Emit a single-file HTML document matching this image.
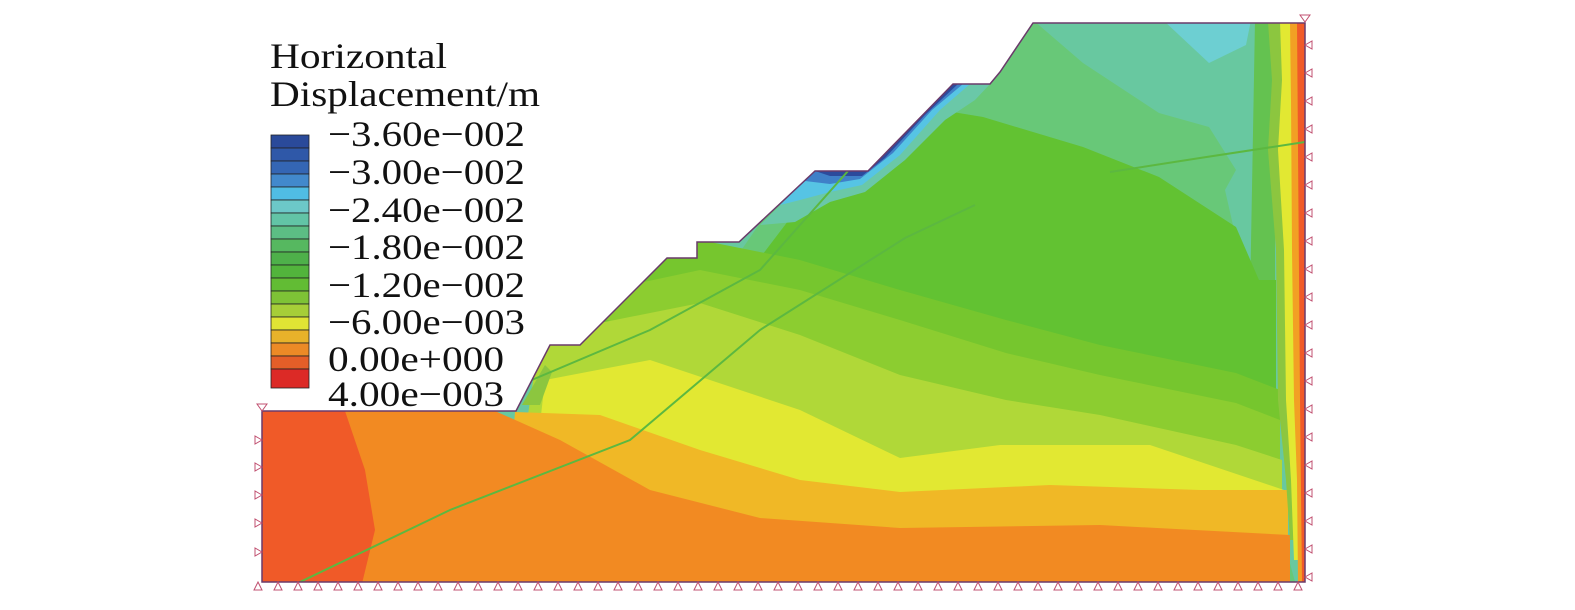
<!DOCTYPE html>
<html><head><meta charset="utf-8"><style>
html,body{margin:0;padding:0;background:#fff;}
svg{display:block}
text{font-family:"Liberation Serif",serif;fill:#111}
</style></head><body>
<svg width="1575" height="610" viewBox="0 0 1575 610" xmlns="http://www.w3.org/2000/svg">
<defs>
<clipPath id="dom"><path d="M262,411 L516,411 L550,345 L580,345 L667,258 L697,258 L697,242 L739,242 L815,171 L868,171 L953,84 L990,84 L1000,72 L1033,23 L1305,23 L1305,582 L262,582 Z"/></clipPath>
</defs>
<g clip-path="url(#dom)">
<rect x="250" y="0" width="1100" height="600" fill="#68c8a0"/>
<path d="M1163,20 L1251,20 L1246,45 L1209,63 Z" fill="#6dcfd2"/>
<path d="M900,20 L1033,20 L1083,63 L1159,113 L1209,127 L1236,170 L1225,190 L1250,300 L1240,380 L1300,600 L500,600 Z" fill="#68c878"/>
<path d="M1255,20 L1275,20 L1275,600 L1240,600 L1250,300 Z" fill="#64c250"/>
<path d="M880,100 L983,117 L1083,147 L1159,177 L1236,227 L1262,287 L1270,600 L500,600 Z" fill="#62c232"/>
<path d="M1240,280 L1276,280 L1276,600 L1240,600 Z" fill="#62c232"/>
<path d="M600,250 L700,240 L800,260 L900,290 L1006,320 L1100,345 L1236,373 L1280,390 L1280,600 L500,600 Z" fill="#76c62e"/>
<path d="M560,300 L700,270 L800,290 L900,320 L1006,353 L1100,375 L1236,403 L1280,420 L1280,600 Z" fill="#8ccd30"/>
<path d="M540,335 L700,303 L800,335 L900,375 L1006,400 L1100,415 L1236,445 L1282,460 L1282,600 L500,600 Z" fill="#b0d838"/>
<path d="M545,380 L650,360 L800,410 L900,458 L1000,445 L1150,445 L1284,490 L1285,600 L520,600 Z" fill="#e2e832"/>
<path d="M515,412 L600,415 L700,450 L800,480 L900,492 L1050,485 L1200,490 L1288,490 L1288,600 L500,600 Z" fill="#f0b826"/>
<path d="M495,411 L560,440 L650,490 L760,518 L900,528 L1100,525 L1290,535 L1290,600 L350,600 L345,411 Z" fill="#f28a22"/>
<path d="M250,400 L345,411 L365,470 L375,530 L358,600 L250,600 Z" fill="#f05a28"/>
<path d="M1268,22 L1272,80 L1268,150 L1276,250 L1278,400 L1286,480 L1290,540 L1310,540 L1310,22 Z" fill="#8cc63f"/>
<path d="M1280,22 L1282,80 L1278,150 L1284,250 L1286,400 L1291,480 L1294,560 L1310,560 L1310,22 Z" fill="#e2e832"/>
<path d="M1290,22 L1291,100 L1292,250 L1294,400 L1297,480 L1298,582 L1310,582 L1310,22 Z" fill="#f2a024"/>
<path d="M1297,22 L1298,150 L1300,400 L1302,582 L1310,582 L1310,22 Z" fill="#f05a28"/>
<path d="M760,225 L815,171 L868,171 L953,84 L990,84 L975,100 L945,120 L905,160 L865,192 L830,202 L795,222 Z" fill="#6ac8a8"/>
<path d="M780,205 L815,171 L868,171 L953,84 L970,84 L940,110 L900,155 L862,185 L830,192 L800,200 Z" fill="#56c4e4"/>
<path d="M805,181 L815,171 L868,171 L953,84 L963,84 L932,110 L893,153 L860,179 L830,184 Z" fill="#3f80c8"/>
<path d="M815,171 L868,171 L953,84 L958,84 L925,115 L885,158 L862,176 L830,176 Z" fill="#2c4a9c"/>
<path d="M522,405 L545,365 L552,372 L540,405 Z" fill="#8cc63f"/>
<polyline points="300,582 450,510 630,440 760,330 905,238 975,205" fill="none" stroke="#5cb840" stroke-width="2"/>
<polyline points="520,385 650,330 760,270 848,171" fill="none" stroke="#5cb840" stroke-width="2"/>
<polyline points="1110,172 1200,158 1305,142" fill="none" stroke="#5cb840" stroke-width="2"/>
</g>
<path d="M262,411 L516,411 L550,345 L580,345 L667,258 L697,258 L697,242 L739,242 L815,171 L868,171 L953,84 L990,84 L1000,72 L1033,23 L1305,23 L1305,582 L262,582 Z" fill="none" stroke="#6a3a6a" stroke-width="1.5"/>
<g fill="none" stroke="#c05070" stroke-width="1">
<path d="M257,404 h10 l-5,7 z"/>
<path d="M1300,15 h10 l-5,7 z"/>
<path d="M258,582 l4,8 h-8 z M278,582 l4,8 h-8 z M298,582 l4,8 h-8 z M318,582 l4,8 h-8 z M338,582 l4,8 h-8 z M358,582 l4,8 h-8 z M378,582 l4,8 h-8 z M398,582 l4,8 h-8 z M418,582 l4,8 h-8 z M438,582 l4,8 h-8 z M458,582 l4,8 h-8 z M478,582 l4,8 h-8 z M498,582 l4,8 h-8 z M518,582 l4,8 h-8 z M538,582 l4,8 h-8 z M558,582 l4,8 h-8 z M578,582 l4,8 h-8 z M598,582 l4,8 h-8 z M618,582 l4,8 h-8 z M638,582 l4,8 h-8 z M658,582 l4,8 h-8 z M678,582 l4,8 h-8 z M698,582 l4,8 h-8 z M718,582 l4,8 h-8 z M738,582 l4,8 h-8 z M758,582 l4,8 h-8 z M778,582 l4,8 h-8 z M798,582 l4,8 h-8 z M818,582 l4,8 h-8 z M838,582 l4,8 h-8 z M858,582 l4,8 h-8 z M878,582 l4,8 h-8 z M898,582 l4,8 h-8 z M918,582 l4,8 h-8 z M938,582 l4,8 h-8 z M958,582 l4,8 h-8 z M978,582 l4,8 h-8 z M998,582 l4,8 h-8 z M1018,582 l4,8 h-8 z M1038,582 l4,8 h-8 z M1058,582 l4,8 h-8 z M1078,582 l4,8 h-8 z M1098,582 l4,8 h-8 z M1118,582 l4,8 h-8 z M1138,582 l4,8 h-8 z M1158,582 l4,8 h-8 z M1178,582 l4,8 h-8 z M1198,582 l4,8 h-8 z M1218,582 l4,8 h-8 z M1238,582 l4,8 h-8 z M1258,582 l4,8 h-8 z M1278,582 l4,8 h-8 z M1298,582 l4,8 h-8 z"/>
<path d="M262,440 l-7,-4 v8 z M262,467 l-7,-4 v8 z M262,495 l-7,-4 v8 z M262,523 l-7,-4 v8 z M262,552 l-7,-4 v8 z"/>
<path d="M1305,45 l7,-4 v8 z M1305,73 l7,-4 v8 z M1305,101 l7,-4 v8 z M1305,129 l7,-4 v8 z M1305,157 l7,-4 v8 z M1305,185 l7,-4 v8 z M1305,213 l7,-4 v8 z M1305,241 l7,-4 v8 z M1305,269 l7,-4 v8 z M1305,297 l7,-4 v8 z M1305,325 l7,-4 v8 z M1305,353 l7,-4 v8 z M1305,381 l7,-4 v8 z M1305,409 l7,-4 v8 z M1305,437 l7,-4 v8 z M1305,465 l7,-4 v8 z M1305,493 l7,-4 v8 z M1305,521 l7,-4 v8 z M1305,549 l7,-4 v8 z M1305,577 l7,-4 v8 z"/>
</g>
<text x="270" y="68" font-size="36" textLength="177" lengthAdjust="spacingAndGlyphs">Horizontal</text>
<text x="270" y="106" font-size="36" textLength="270" lengthAdjust="spacingAndGlyphs">Displacement/m</text>
<g stroke="#222" stroke-width="0.8">
<rect x="271" y="135" width="38" height="13" fill="#2a4a9a"/>
<rect x="271" y="148" width="38" height="13" fill="#2f58a8"/>
<rect x="271" y="161" width="38" height="13" fill="#3466b4"/>
<rect x="271" y="174" width="38" height="13" fill="#4289cc"/>
<rect x="271" y="187" width="38" height="13" fill="#50bde4"/>
<rect x="271" y="200" width="38" height="13" fill="#6cc8c8"/>
<rect x="271" y="213" width="38" height="13" fill="#62c4a6"/>
<rect x="271" y="226" width="38" height="13" fill="#5cbd84"/>
<rect x="271" y="239" width="38" height="13" fill="#56b860"/>
<rect x="271" y="252" width="38" height="13" fill="#4eb04a"/>
<rect x="271" y="265" width="38" height="13" fill="#52b43c"/>
<rect x="271" y="278" width="38" height="13" fill="#62bc34"/>
<rect x="271" y="291" width="38" height="13" fill="#7ec236"/>
<rect x="271" y="304" width="38" height="13" fill="#a6ce38"/>
<rect x="271" y="317" width="38" height="13" fill="#e0e434"/>
<rect x="271" y="330" width="38" height="13" fill="#e8b22a"/>
<rect x="271" y="343" width="38" height="13" fill="#ec8a26"/>
<rect x="271" y="356" width="38" height="13" fill="#e45e28"/>
<rect x="271" y="369" width="38" height="19" fill="#dc2a26"/>
</g>
<g font-size="36">
<text x="328" y="146" textLength="197" lengthAdjust="spacingAndGlyphs">−3.60e−002</text>
<text x="328" y="184" textLength="197" lengthAdjust="spacingAndGlyphs">−3.00e−002</text>
<text x="328" y="222" textLength="197" lengthAdjust="spacingAndGlyphs">−2.40e−002</text>
<text x="328" y="259" textLength="197" lengthAdjust="spacingAndGlyphs">−1.80e−002</text>
<text x="328" y="297" textLength="197" lengthAdjust="spacingAndGlyphs">−1.20e−002</text>
<text x="328" y="334" textLength="197" lengthAdjust="spacingAndGlyphs">−6.00e−003</text>
<text x="328" y="371" textLength="176" lengthAdjust="spacingAndGlyphs">0.00e+000</text>
<text x="328" y="406" textLength="176" lengthAdjust="spacingAndGlyphs">4.00e−003</text>
</g>
</svg>
</body></html>
